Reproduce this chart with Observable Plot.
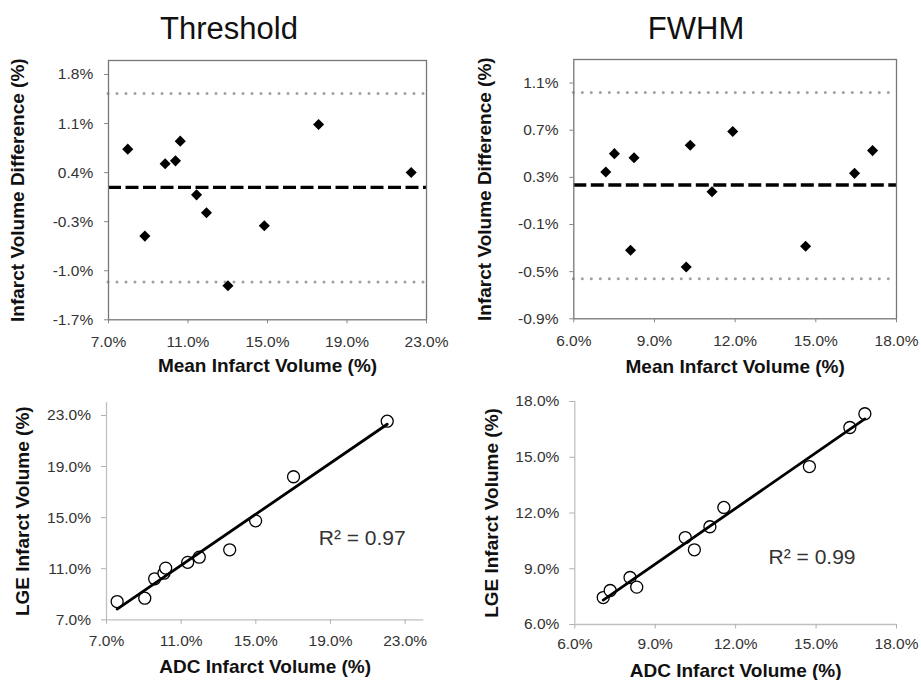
<!DOCTYPE html>
<html>
<head>
<meta charset="utf-8">
<script src="https://cdn.jsdelivr.net/npm/d3@7"></script>
<script src="https://cdn.jsdelivr.net/npm/@observablehq/plot@0.6"></script>
<style>
  body { margin: 0; background: #fff; font-family: "Liberation Sans", Arial, sans-serif; }
  #wrap { position: relative; width: 921px; height: 680px; overflow: hidden; background: #fff; }
  .panel { position: absolute; }
  .title { position: absolute; top: 13px; width: 300px; text-align: center; font-size: 31px; line-height: 31px; color: #111; }
</style>
</head>
<body>
<div id="wrap">
  <div class="title" style="left:79px">Threshold</div>
  <div class="title" style="left:546px">FWHM</div>
</div>
<script>
// ---------- Data ----------
// Threshold: Bland-Altman (mean vs difference)
const thrMean = [7.97, 8.83, 9.85, 10.37, 10.61, 11.43, 11.93, 13.01, 14.84, 17.57, 22.23];
const thrDiff = [0.735, -0.506, 0.526, 0.568, 0.849, 0.083, -0.173, -1.215, -0.359, 1.087, 0.402];
const thrBias = [0.19];
const thrLimits = [1.53, -1.16];

// FWHM: Bland-Altman
const fwMean = [7.19, 7.51, 8.11, 8.24, 10.18, 10.33, 11.14, 11.91, 14.62, 16.44, 17.11];
const fwDiff = [0.345, 0.501, -0.318, 0.467, -0.460, 0.572, 0.178, 0.689, -0.284, 0.334, 0.527];
const fwBias = [0.235];
const fwLimits = [1.02, -0.56];

// Threshold: correlation ADC vs LGE
const thrADC = [7.57, 9.05, 9.58, 10.08, 10.17, 11.35, 11.97, 13.60, 14.99, 17.02, 22.04];
const thrLGE = [8.43, 8.69, 10.21, 10.65, 11.05, 11.50, 11.90, 12.48, 14.75, 18.20, 22.55];

// FWHM: correlation ADC vs LGE
const fwADC = [7.06, 7.32, 8.06, 8.31, 10.12, 10.46, 11.04, 11.56, 14.75, 16.26, 16.82];
const fwLGE = [7.45, 7.83, 8.53, 8.01, 10.68, 10.02, 11.26, 12.30, 14.50, 16.60, 17.34];

// R² annotations (text and position in data units)
const thrR2 = [{text: "R² = 0.97", x: 20.7, y: 13.4}];
const fwR2 = [{text: "R² = 0.99", x: 14.85, y: 9.6}];

// Tick values
const thrBAxTicks = [7, 11, 15, 19, 23];
const thrBAyTicks = [-1.7, -1.0, -0.3, 0.4, 1.1, 1.8];
const fwBAxTicks = [6, 9, 12, 15, 18];
const fwBAyTicks = [-0.9, -0.5, -0.1, 0.3, 0.7, 1.1];
const thrCorTicks = [7, 11, 15, 19, 23];
const fwCorTicks = [6, 9, 12, 15, 18];

// Labels
const labelMean = "Mean Infarct Volume (%)";
const labelDiff = "Infarct Volume Difference (%)";
const labelADC = "ADC Infarct Volume (%)";
const labelLGE = "LGE Infarct Volume (%)";

// ---------- Helpers ----------
const FONT = "'Liberation Sans', Arial, sans-serif";
const fmt = d => d.toFixed(1) + "%";
const wrap = document.getElementById("wrap");

function place(svg, left, top) {
  svg.classList.add("panel");
  svg.style.left = left + "px";
  svg.style.top = top + "px";
  wrap.appendChild(svg);
}

function axisLabels(xl, yl, xdy, ydx) {
  return [
    Plot.text([xl], {text: d => d, frameAnchor: "bottom", dy: xdy, textAnchor: "middle", lineAnchor: "middle", fontWeight: "bold", fontSize: 19, fill: "#111"}),
    Plot.text([yl], {text: d => d, frameAnchor: "left", dx: ydx, rotate: -90, textAnchor: "middle", lineAnchor: "middle", fontWeight: "bold", fontSize: 19, fill: "#111"})
  ];
}

function blandAltman({mean, diff, bias, limits, xDomain, yDomain, xTicks, yTicks, width, height, margins, xdy, ydx}) {
  const table = mean.map((m, i) => ({m, d: diff[i]}));
  return Plot.plot({
    width, height, ...margins,
    style: {fontFamily: FONT, background: "transparent", overflow: "visible"},
    x: {domain: xDomain, label: null},
    y: {domain: yDomain, label: null},
    marks: [
      Plot.ruleY(limits, {stroke: "#a0a0a0", strokeWidth: 3, strokeDasharray: "0,9", strokeLinecap: "round"}),
      Plot.ruleY(bias, {stroke: "#000", strokeWidth: 3.3, strokeDasharray: "13,4.5"}),
      Plot.dot(table, {x: "m", y: "d", symbol: "diamond2", r: 5, fill: "#000", stroke: "none"}),
      Plot.frame({stroke: "#777", strokeWidth: 1.3}),
      Plot.axisX(xTicks, {tickSize: 4, tickPadding: 12, tickFormat: fmt, stroke: "#888", fill: "#333", fontSize: 15.5, label: null}),
      Plot.axisY(yTicks, {tickSize: 4, tickPadding: 11.3, tickFormat: fmt, stroke: "#888", fill: "#333", fontSize: 15.5, label: null}),
      ...axisLabels(labelMean, labelDiff, xdy, ydx)
    ]
  });
}

function correlation({adc, lge, r2, domain, ticks, width, height, margins, xPad, xdy, ydx}) {
  const table = adc.map((a, i) => ({a, l: lge[i]}));
  return Plot.plot({
    width, height, ...margins,
    style: {fontFamily: FONT, background: "transparent", overflow: "visible"},
    x: {domain, label: null},
    y: {domain, label: null},
    marks: [
      Plot.ruleX([domain[0]], {stroke: "#c0c0c0", strokeWidth: 1.3}),
      Plot.ruleY([domain[0]], {stroke: "#c0c0c0", strokeWidth: 1.3}),
      Plot.axisX(ticks, {tickSize: 4.5, tickPadding: xPad, tickFormat: fmt, stroke: "#b0b0b0", fill: "#333", fontSize: 15.5, label: null}),
      Plot.axisY(ticks, {tickSize: 5, tickPadding: 10.5, tickFormat: fmt, stroke: "#b0b0b0", fill: "#333", fontSize: 15.5, label: null}),
      Plot.dot(table, {x: "a", y: "l", r: 6, stroke: "#000", fill: "#fff", strokeWidth: 1.3}),
      Plot.linearRegressionY(table, {x: "a", y: "l", stroke: "#000", strokeWidth: 2.8, ci: 0}),
      Plot.text(r2, {x: "x", y: "y", text: "text", fontSize: 21, fill: "#333"}),
      ...axisLabels(labelADC, labelLGE, xdy, ydx)
    ]
  });
}

// ---------- Panels ----------
place(blandAltman({
  mean: thrMean, diff: thrDiff, bias: thrBias, limits: thrLimits,
  xDomain: [7, 23], yDomain: [-1.7, 2.0], xTicks: thrBAxTicks, yTicks: thrBAyTicks,
  width: 460, height: 330,
  margins: {marginLeft: 108, marginRight: 34, marginTop: 10, marginBottom: 60.7},
  xdy: 45.7, ydx: -90.5
}), 0, 50);

place(blandAltman({
  mean: fwMean, diff: fwDiff, bias: fwBias, limits: fwLimits,
  xDomain: [6, 18], yDomain: [-0.9, 1.3], xTicks: fwBAxTicks, yTicks: fwBAyTicks,
  width: 461, height: 330,
  margins: {marginLeft: 113.3, marginRight: 25, marginTop: 9, marginBottom: 61.7},
  xdy: 47.7, ydx: -89.3
}), 460, 50);

place(correlation({
  adc: thrADC, lge: thrLGE, r2: thrR2, domain: [7, 24], ticks: thrCorTicks,
  width: 460, height: 300,
  margins: {marginLeft: 106, marginRight: 36.7, marginTop: 22.2, marginBottom: 60.7},
  xPad: 11, xdy: 47.4, ydx: -83.5
}), 0, 380);

place(correlation({
  adc: fwADC, lge: fwLGE, r2: fwR2, domain: [6, 18], ticks: fwCorTicks,
  width: 461, height: 300,
  margins: {marginLeft: 114.3, marginRight: 25, marginTop: 21, marginBottom: 56},
  xPad: 8.5, xdy: 46, ydx: -83.3
}), 460, 380);
</script>
</body>
</html>
